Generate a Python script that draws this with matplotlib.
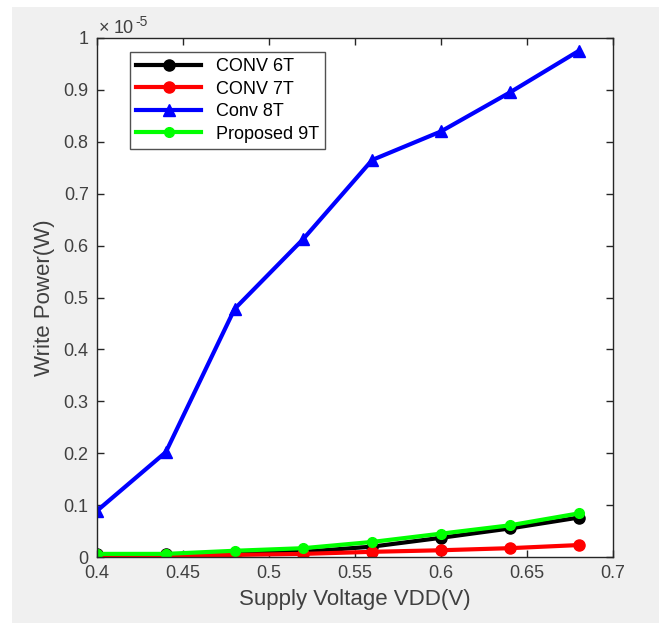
import matplotlib
matplotlib.use("Agg")
import matplotlib.pyplot as plt
from matplotlib.patches import Rectangle

plt.rcParams['font.family'] = ['Liberation Sans', 'DejaVu Sans']

vdd = [0.40, 0.44, 0.48, 0.52, 0.56, 0.60, 0.64, 0.68]
conv6t = [0.005, 0.005, 0.007, 0.010, 0.020, 0.037, 0.055, 0.076]
conv7t = [0.003, 0.003, 0.004, 0.006, 0.010, 0.013, 0.017, 0.023]
conv8t = [0.089, 0.202, 0.478, 0.613, 0.765, 0.820, 0.895, 0.975]
prop9t = [0.006, 0.006, 0.012, 0.017, 0.029, 0.045, 0.061, 0.084]
scale = 1e-5

xticks = [0.4, 0.45, 0.5, 0.55, 0.6, 0.65, 0.7]
xticklabels = ['0.4', '0.45', '0.5', '0.55', '0.6', '0.65', '0.7']
yticks = [0, 0.1, 0.2, 0.3, 0.4, 0.5, 0.6, 0.7, 0.8, 0.9, 1.0]
yticklabels = ['0', '0.1', '0.2', '0.3', '0.4', '0.5', '0.6', '0.7', '0.8', '0.9', '1']

fig = plt.figure(figsize=(6.59, 6.23), dpi=100, facecolor='white')
fig.patches.append(Rectangle((12/659, 0), 1, 1 - 7/623, transform=fig.transFigure,
                             facecolor='#f0f0f0', edgecolor='none', zorder=-10))
ax = fig.add_axes([97/659, 1 - 557/623, (613 - 97)/659, (557 - 38)/623])
ax.set_facecolor('white')

lw = 3
ax.plot(vdd, [v * scale for v in conv6t], color='black', marker='o', ms=8, lw=lw, label='CONV 6T')
ax.plot(vdd, [v * scale for v in conv7t], color='#ff0000', marker='o', ms=8, lw=lw, label='CONV 7T')
ax.plot(vdd, [v * scale for v in conv8t], color='#0000ff', marker='^', ms=9, lw=lw, label='Conv 8T')
ax.plot(vdd, [v * scale for v in prop9t], color='#00ff00', marker='o', ms=7, lw=lw, label='Proposed 9T')

ax.set_xlim(0.4, 0.7)
ax.set_ylim(0, 1.0 * scale)
ax.set_xticks(xticks)
ax.set_xticklabels(xticklabels)
ax.set_yticks([t * scale for t in yticks])
ax.set_yticklabels(yticklabels)
ax.tick_params(direction='in', top=True, right=True, length=5, width=1,
               colors='#262626', labelcolor='#404040', labelsize=13, pad=6)
for s in ax.spines.values():
    s.set_color('#262626')
    s.set_linewidth(1)

ax.set_xlabel('Supply Voltage VDD(V)', fontsize=16, color='#404040', labelpad=5)
ax.set_ylabel('Write Power(W)', fontsize=16, color='#404040', labelpad=6)
ax.text(0.004, 1.0096, '\u00d7', transform=ax.transAxes, fontsize=13,
        color='#404040', ha='left', va='baseline')
ax.text(0.033, 1.0096, '10', transform=ax.transAxes, fontsize=13,
        color='#404040', ha='left', va='baseline')
ax.text(0.074, 1.023, '-5', transform=ax.transAxes, fontsize=10,
        color='#404040', ha='left', va='baseline')

leg = ax.legend(loc='upper left', bbox_to_anchor=(33/516, 1 - 14/519), frameon=True,
                fancybox=False, edgecolor='#262626', fontsize=13, handlelength=3.6,
                borderpad=0.35, labelspacing=0.3, handletextpad=0.8, borderaxespad=0)
leg.get_frame().set_linewidth(1)

fig.savefig('out.png', dpi=100, facecolor=fig.get_facecolor())
